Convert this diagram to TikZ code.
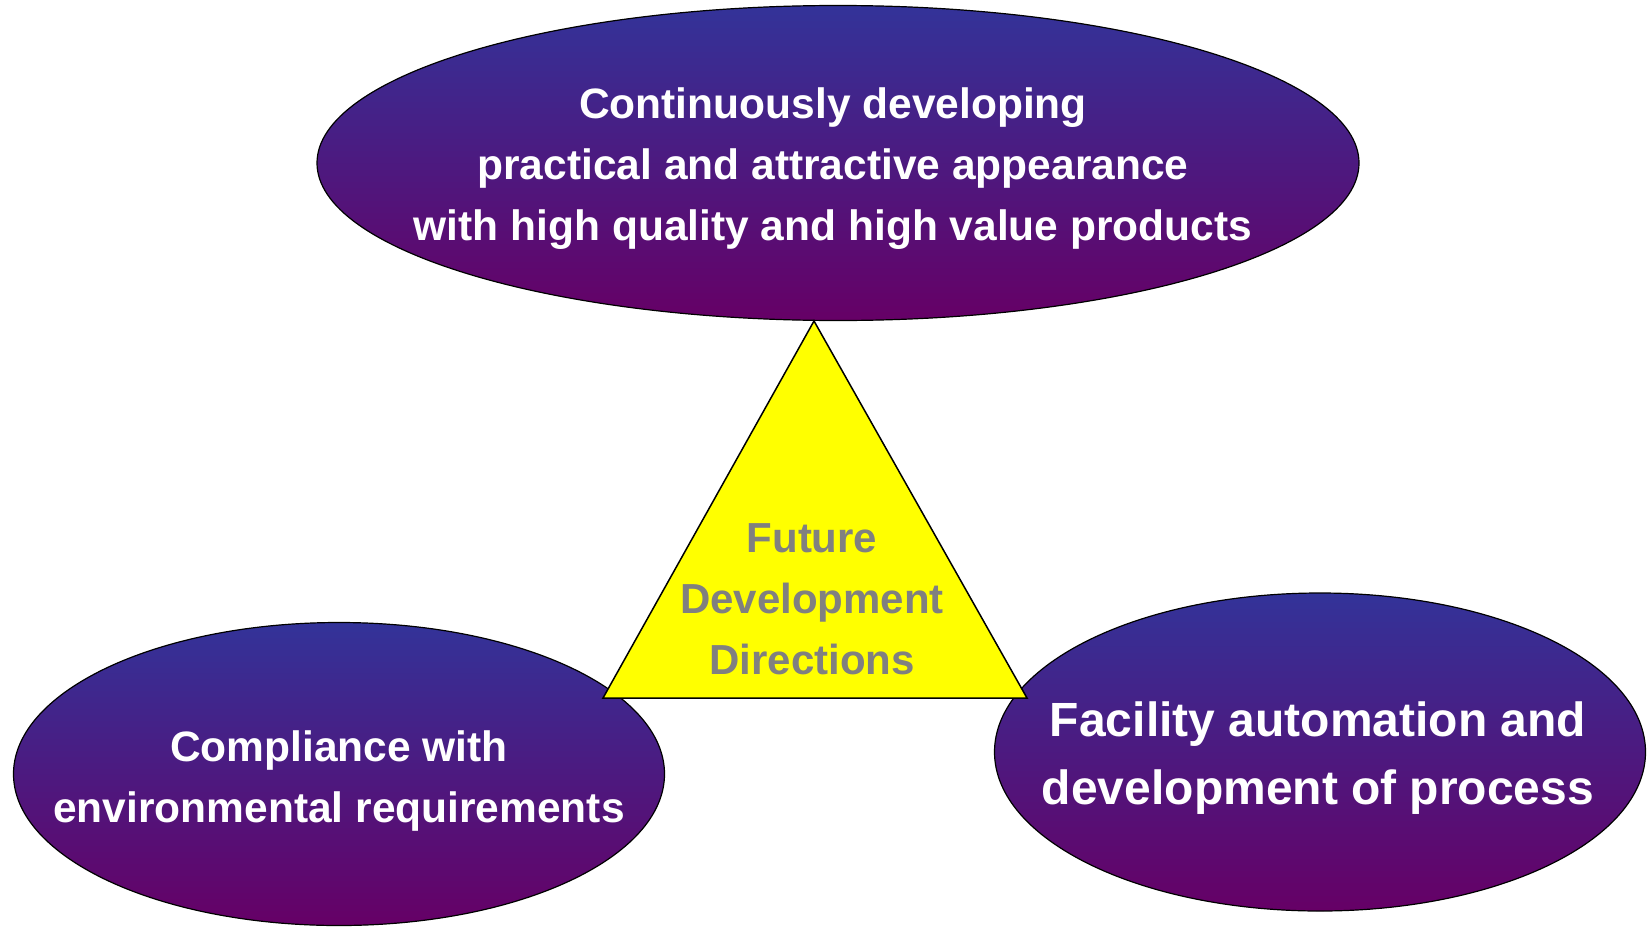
\documentclass[tikz,border=0pt]{standalone}
\usepackage{fontspec}
\setmainfont{Liberation Sans}
\definecolor{ovaltop}{RGB}{51,51,153}
\definecolor{ovalbottom}{RGB}{102,0,102}
\definecolor{coretext}{RGB}{128,128,128}
\definecolor{coreyellow}{RGB}{255,255,0}
\begin{document}
\begin{tikzpicture}[x=1pt, y=-1pt,
    oval/.style={draw=black, line width=1.2pt, top color=ovaltop, bottom color=ovalbottom},
    ovaltext/.style={align=center, text=white, font=\bfseries\fontsize{42.5}{61}\selectfont}]
    \useasboundingbox (0,0) rectangle (1651,926);
    \draw [oval] (838,163) ellipse [x radius=521, y radius=157.5];
    \draw [oval] (339,774) ellipse [x radius=325.5, y radius=151.5];
    \draw [oval] (1320,752) ellipse [x radius=325.5, y radius=159];
    \node [ovaltext] (quality) at (833,169)
      {Continuously developing\\practical and attractive appearance\\with high quality and high value products};
    \node [ovaltext] (environment) at (339,781)
      {Compliance with\\environmental requirements};
    \node [ovaltext, font=\bfseries\fontsize{48}{68}\selectfont] (automation) at (1318,758)
      {Facility automation and\\development of process};
    \coordinate (apex) at (814,321);
    \coordinate (baseleft) at (603,698);
    \coordinate (baseright) at (1027,698);
    \draw [fill=coreyellow, line width=1.5pt, line join=miter] (apex) -- (baseleft) -- (baseright) -- cycle;
    \node [align=center, text=coretext, font=\bfseries\fontsize{42}{61}\selectfont] (directions) at (812,599)
      {Future\\Development\\Directions};
\end{tikzpicture}
\end{document}
